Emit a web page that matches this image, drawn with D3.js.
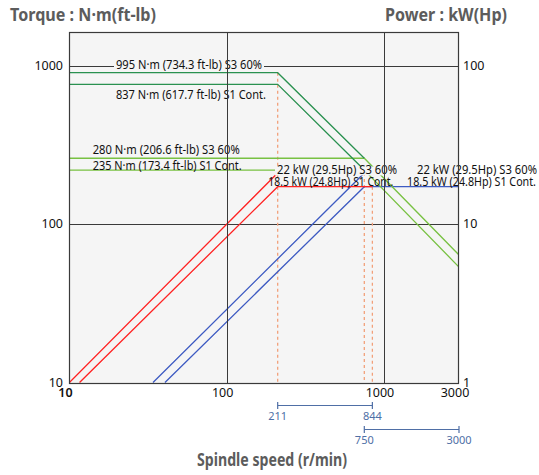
<!DOCTYPE html>
<html><head><meta charset="utf-8">
<script src="https://cdn.jsdelivr.net/npm/d3@7"></script>
<style>html,body{margin:0;padding:0;background:#fff;} svg{display:block;}</style>
</head><body>
<svg id="chart" width="539" height="475"></svg>
<script>
// ---------- data ----------
const speedTicks = [10, 100, 1000, 3000];
const torqueTicks = [10, 100, 1000];
const powerTicks = [1, 10, 100];

// torque curves (N·m) as drawn: [speed r/min, torque]
const torqueS3Low  = [[10, 901], [211, 901], [750, 260]];
const torqueS1Low  = [[10, 761], [211, 761], [750, 219]];
const torqueS3High = [[10, 260], [750, 260], [3000, 63.7]];
const torqueS1High = [[10, 219], [750, 219], [3000, 53.5]];

// power curves (kW) as drawn: [speed r/min, power]
const powerS3Low  = [[10, 1.0], [211, 21.0], [844, 21.0]];
const powerS1Low  = [[11.6, 1.0], [211, 17.2], [844, 17.2]];
const powerS3High = [[34, 1.0], [750, 21.0], [3000, 21.0]];
const powerS1High = [[40.5, 1.0], [750, 17.2], [3000, 17.2]];

// base speed markers
const dashSpeeds = [211, 750, 844];
const dashTopTorque = [901, null, null];
const dashTopPower = [null, 21.0, 17.2];
const lowRange = [211, 844];
const highRange = [750, 3000];

const torqueLabels = [
  "995 N·m (734.3 ft-lb) S3 60%",
  "837 N·m (617.7 ft-lb) S1 Cont.",
  "280 N·m (206.6 ft-lb) S3 60%",
  "235 N·m (173.4 ft-lb) S1 Cont."
];
const powerLabels = [
  "22 kW (29.5Hp) S3 60%",
  "18.5 kW (24.8Hp) S1 Cont."
];

// ---------- layout ----------
const svg = d3.select("#chart");
const L = 69.5, R = 458.5, T = 32.5, B = 383.5;
const x = d3.scaleLog().domain([10, 3000]).range([69.4, 459]);
const y = d3.scaleLog().domain([10, 1000]).range([382.5, 65.5]);
const yP = d3.scaleLog().domain([1, 100]).range([382.5, 65.5]);
const FONT = "'Noto Sans', 'DejaVu Sans', sans-serif";

const C = {
  bg: "#f5f5f5", grid: "#3a3a3a",
  dkGreen: "#2a9150", ltGreen: "#78c142",
  red: "#ff2323", blue: "#3e5bc2", dash: "#f2a07a",
  marker: "#4f6fa6", title: "#5c5c5c"
};

svg.append("defs").append("clipPath").attr("id", "plotClip")
  .append("rect").attr("x", L).attr("y", T).attr("width", R - L).attr("height", B - T);

svg.append("rect").attr("x", L).attr("y", T).attr("width", R - L).attr("height", B - T)
  .attr("fill", C.bg);

// horizontal gridlines
const hGrid = svg.append("g").attr("transform", `translate(${L},0)`)
  .call(d3.axisLeft(y).tickValues(torqueTicks).tickSize(-(R - L)).tickFormat(""));
hGrid.select(".domain").remove();
hGrid.selectAll("line").attr("stroke", C.grid).attr("stroke-width", 1)
  .attr("shape-rendering", "crispEdges");

const plot = svg.append("g").attr("clip-path", "url(#plotClip)");

// dashed base-speed lines
plot.selectAll("line.dash").data(dashSpeeds).join("line")
  .attr("class", "dash")
  .attr("x1", d => x(d)).attr("x2", d => x(d))
  .attr("y1", (d, i) => dashTopTorque[i] != null ? y(dashTopTorque[i]) : yP(dashTopPower[i]))
  .attr("y2", B)
  .attr("stroke", C.dash).attr("stroke-width", 1.3).attr("stroke-dasharray", "3,3");

const tLine = d3.line().x(d => x(d[0])).y(d => y(d[1]));
const pLine = d3.line().x(d => x(d[0])).y(d => yP(d[1]));

function curve(data, gen, color) {
  plot.append("path").datum(data).attr("d", gen)
    .attr("fill", "none").attr("stroke", color).attr("stroke-width", 1.3);
}
curve(powerS3High, pLine, C.blue);
curve(powerS1High, pLine, C.blue);
curve(powerS3Low, pLine, C.red);
curve(powerS1Low, pLine, C.red);
curve(torqueS3High, tLine, C.ltGreen);
curve(torqueS1High, tLine, C.ltGreen);
curve(torqueS3Low, tLine, C.dkGreen);
curve(torqueS1Low, tLine, C.dkGreen);

// background bands behind some annotations (hide the lines under them)
const bands = [
  {x0: 114, x1: 264, y0: 58.5, y1: 70.5},
  {x0: 275, x1: 460, y0: 166.5, y1: 175.5}
];
svg.append("g").attr("clip-path", "url(#plotClip)").selectAll("rect").data(bands).join("rect")
  .attr("x", d => d.x0).attr("y", d => d.y0)
  .attr("width", d => d.x1 - d.x0).attr("height", d => d.y1 - d.y0)
  .attr("fill", C.bg);

// annotations
const ann = [
  {t: torqueLabels[0], x: 116, cy: 64.5, w: 146},
  {t: torqueLabels[1], x: 116, cy: 95, w: 150},
  {t: torqueLabels[2], x: 92.7, cy: 149.3, w: 147},
  {t: torqueLabels[3], x: 92.7, cy: 166, w: 149},
  {t: powerLabels[0], x: 277, cy: 170, w: 120},
  {t: powerLabels[0], x: 417, cy: 170, w: 120},
  {t: powerLabels[1], x: 268.3, cy: 181.7, w: 125},
  {t: powerLabels[1], x: 407, cy: 181.7, w: 129}
];
svg.append("g").selectAll("text").data(ann).join("text")
  .attr("x", d => d.x).attr("y", d => d.cy).attr("dy", "0.35em")
  .attr("font-family", FONT).attr("font-size", 12.8).attr("fill", "#111")
  .attr("textLength", d => d.w).attr("lengthAdjust", "spacingAndGlyphs")
  .text(d => d.t);

// vertical gridlines
const vGrid = svg.append("g").attr("transform", `translate(0,${B})`)
  .call(d3.axisBottom(x).tickValues([100, 1000]).tickSize(-(B - T)).tickFormat(""));
vGrid.select(".domain").remove();
vGrid.selectAll("line").attr("stroke", C.grid).attr("stroke-width", 1)
  .attr("shape-rendering", "crispEdges");

// border
svg.append("rect").attr("x", L).attr("y", T).attr("width", R - L).attr("height", B - T)
  .attr("fill", "none").attr("stroke", C.grid).attr("stroke-width", 1.2);

// tick labels
const tickStyle = s => s.attr("font-family", FONT).attr("font-size", 12.5).attr("fill", "#111");
svg.append("g").selectAll("text").data(torqueTicks).join("text")
  .attr("x", 63).attr("y", d => y(d)).attr("dy", "0.35em").attr("text-anchor", "end")
  .text(d => d).call(tickStyle);
svg.append("g").selectAll("text").data(powerTicks).join("text")
  .attr("x", 463).attr("y", d => yP(d)).attr("dy", "0.35em").attr("text-anchor", "start")
  .text(d => d).call(tickStyle);
svg.append("g").selectAll("text").data(speedTicks).join("text")
  .attr("x", d => x(d) - 4).attr("y", 393).attr("dy", "0.35em").attr("text-anchor", "middle")
  .attr("font-weight", d => d === 10 ? 600 : "normal")
  .text(d => d).call(tickStyle);

// speed range markers
function rangeMarker(r, yy) {
  const g = svg.append("g");
  g.append("line").attr("x1", x(r[0])).attr("x2", x(r[1])).attr("y1", yy).attr("y2", yy)
    .attr("stroke", C.marker).attr("stroke-width", 1.2);
  g.selectAll("line.tk").data(r).join("line").attr("class", "tk")
    .attr("x1", d => x(d)).attr("x2", d => x(d)).attr("y1", yy - 3.5).attr("y2", yy + 3.5)
    .attr("stroke", C.marker).attr("stroke-width", 1.2);
  g.selectAll("text").data(r).join("text")
    .attr("x", d => x(d)).attr("y", yy + 11).attr("dy", "0.35em").attr("text-anchor", "middle")
    .attr("font-family", FONT).attr("font-size", 11).attr("fill", C.marker)
    .text(d => d);
}
rangeMarker(lowRange, 405.5);
rangeMarker(highRange, 429.5);

// titles
const titleStyle = s => s.attr("font-family", FONT).attr("font-size", 17.5).attr("font-weight", "bold")
  .attr("fill", C.title).attr("lengthAdjust", "spacingAndGlyphs");
svg.append("text").attr("x", 10).attr("y", 21).attr("textLength", 146)
  .text("Torque : N·m(ft-lb)").call(titleStyle);
svg.append("text").attr("x", 385).attr("y", 21).attr("textLength", 122)
  .text("Power : kW(Hp)").call(titleStyle);
svg.append("text").attr("x", 197).attr("y", 466).attr("textLength", 150)
  .text("Spindle speed (r/min)").call(titleStyle);
</script>
</body></html>
